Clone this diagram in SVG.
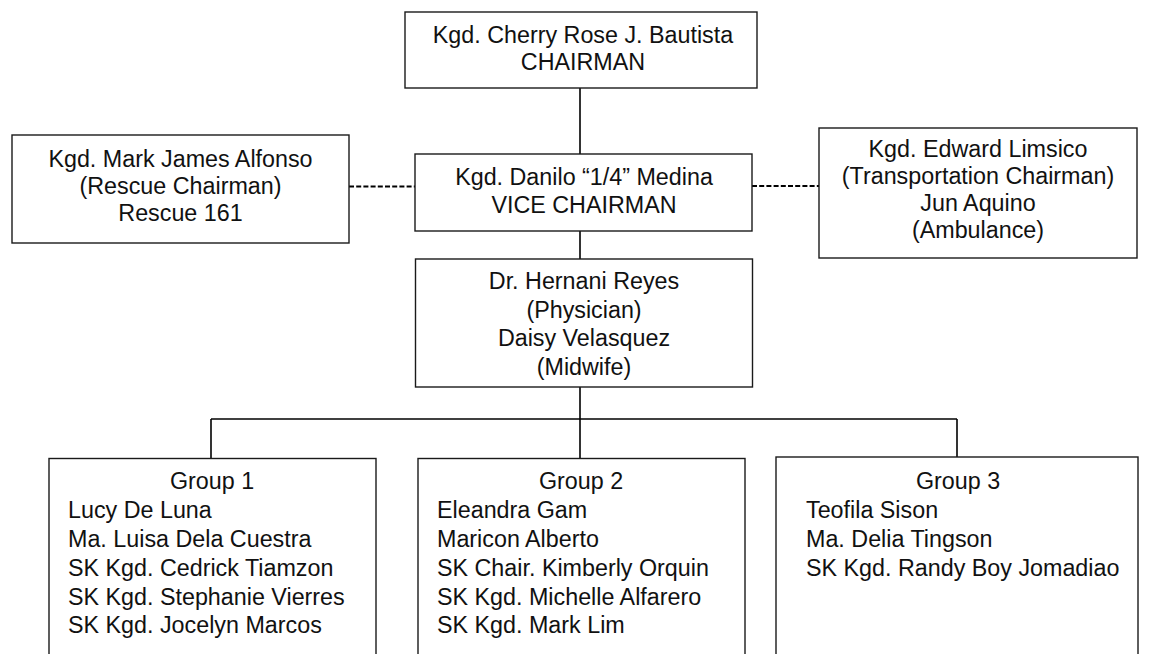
<svg xmlns="http://www.w3.org/2000/svg" width="1149" height="654" viewBox="0 0 1149 654">
<style>
.box{fill:#fff;stroke:#1a1a1a;stroke-width:1.4}
.t{font-family:"Liberation Sans",Arial,sans-serif;font-size:23.3px;fill:#111}
.c{text-anchor:middle}
.ln{stroke:#000;stroke-width:1.6;fill:none}
.dash{stroke:#000;stroke-width:2;stroke-dasharray:5 2.2;fill:none}
</style>
<rect width="1149" height="654" fill="#fff"/>
<g id="connectors">
<line class="ln" x1="580" y1="88" x2="580" y2="154"/>
<line class="ln" x1="580" y1="231" x2="580" y2="259"/>
<line class="ln" x1="580" y1="387" x2="580" y2="458"/>
<line class="ln" x1="211" y1="419" x2="957" y2="419"/>
<line class="ln" x1="211" y1="419" x2="211" y2="458"/>
<line class="ln" x1="957" y1="419" x2="957" y2="457"/>
<line class="dash" x1="349" y1="186.5" x2="415" y2="186.5"/>
<line class="dash" x1="752" y1="186" x2="819" y2="186"/>
</g>
<g id="chairman">
<rect class="box" x="405" y="12" width="352" height="76"/>
<text class="t c" x="583" y="43">Kgd. Cherry Rose J. Bautista</text>
<text class="t c" x="583" y="70">CHAIRMAN</text>
</g>
<g id="rescue">
<rect class="box" x="12" y="135" width="337" height="108"/>
<text class="t c" x="180.5" y="166.5">Kgd. Mark James Alfonso</text>
<text class="t c" x="180.5" y="194">(Rescue Chairman)</text>
<text class="t c" x="180.5" y="221">Rescue 161</text>
</g>
<g id="vice-chairman">
<rect class="box" x="415" y="154" width="337" height="77"/>
<text class="t c" x="584" y="185">Kgd. Danilo “1/4” Medina</text>
<text class="t c" x="584" y="213">VICE CHAIRMAN</text>
</g>
<g id="transportation">
<rect class="box" x="819" y="128" width="318" height="130"/>
<text class="t c" x="978" y="157">Kgd. Edward Limsico</text>
<text class="t c" x="978" y="184">(Transportation Chairman)</text>
<text class="t c" x="978" y="211">Jun Aquino</text>
<text class="t c" x="978" y="238">(Ambulance)</text>
</g>
<g id="physician">
<rect class="box" x="415.5" y="259" width="337" height="128"/>
<text class="t c" x="584" y="289">Dr. Hernani Reyes</text>
<text class="t c" x="584" y="317.5">(Physician)</text>
<text class="t c" x="584" y="346">Daisy Velasquez</text>
<text class="t c" x="584" y="375">(Midwife)</text>
</g>
<g id="group1">
<rect class="box" x="49" y="458.5" width="327" height="210"/>
<text class="t c" x="212" y="489">Group 1</text>
<text class="t" x="68" y="518">Lucy De Luna</text>
<text class="t" x="68" y="547">Ma. Luisa Dela Cuestra</text>
<text class="t" x="68" y="576">SK Kgd. Cedrick Tiamzon</text>
<text class="t" x="68" y="604.5">SK Kgd. Stephanie Vierres</text>
<text class="t" x="68" y="633">SK Kgd. Jocelyn Marcos</text>
</g>
<g id="group2">
<rect class="box" x="418" y="458.5" width="327" height="210"/>
<text class="t c" x="581" y="489">Group 2</text>
<text class="t" x="437" y="518">Eleandra Gam</text>
<text class="t" x="437" y="547">Maricon Alberto</text>
<text class="t" x="437" y="576">SK Chair. Kimberly Orquin</text>
<text class="t" x="437" y="604.5">SK Kgd. Michelle Alfarero</text>
<text class="t" x="437" y="633">SK Kgd. Mark Lim</text>
</g>
<g id="group3">
<rect class="box" x="776" y="457" width="362" height="210"/>
<text class="t c" x="958" y="489">Group 3</text>
<text class="t" x="806" y="518">Teofila Sison</text>
<text class="t" x="806" y="547">Ma. Delia Tingson</text>
<text class="t" x="806" y="576">SK Kgd. Randy Boy Jomadiao</text>
</g>
</svg>
